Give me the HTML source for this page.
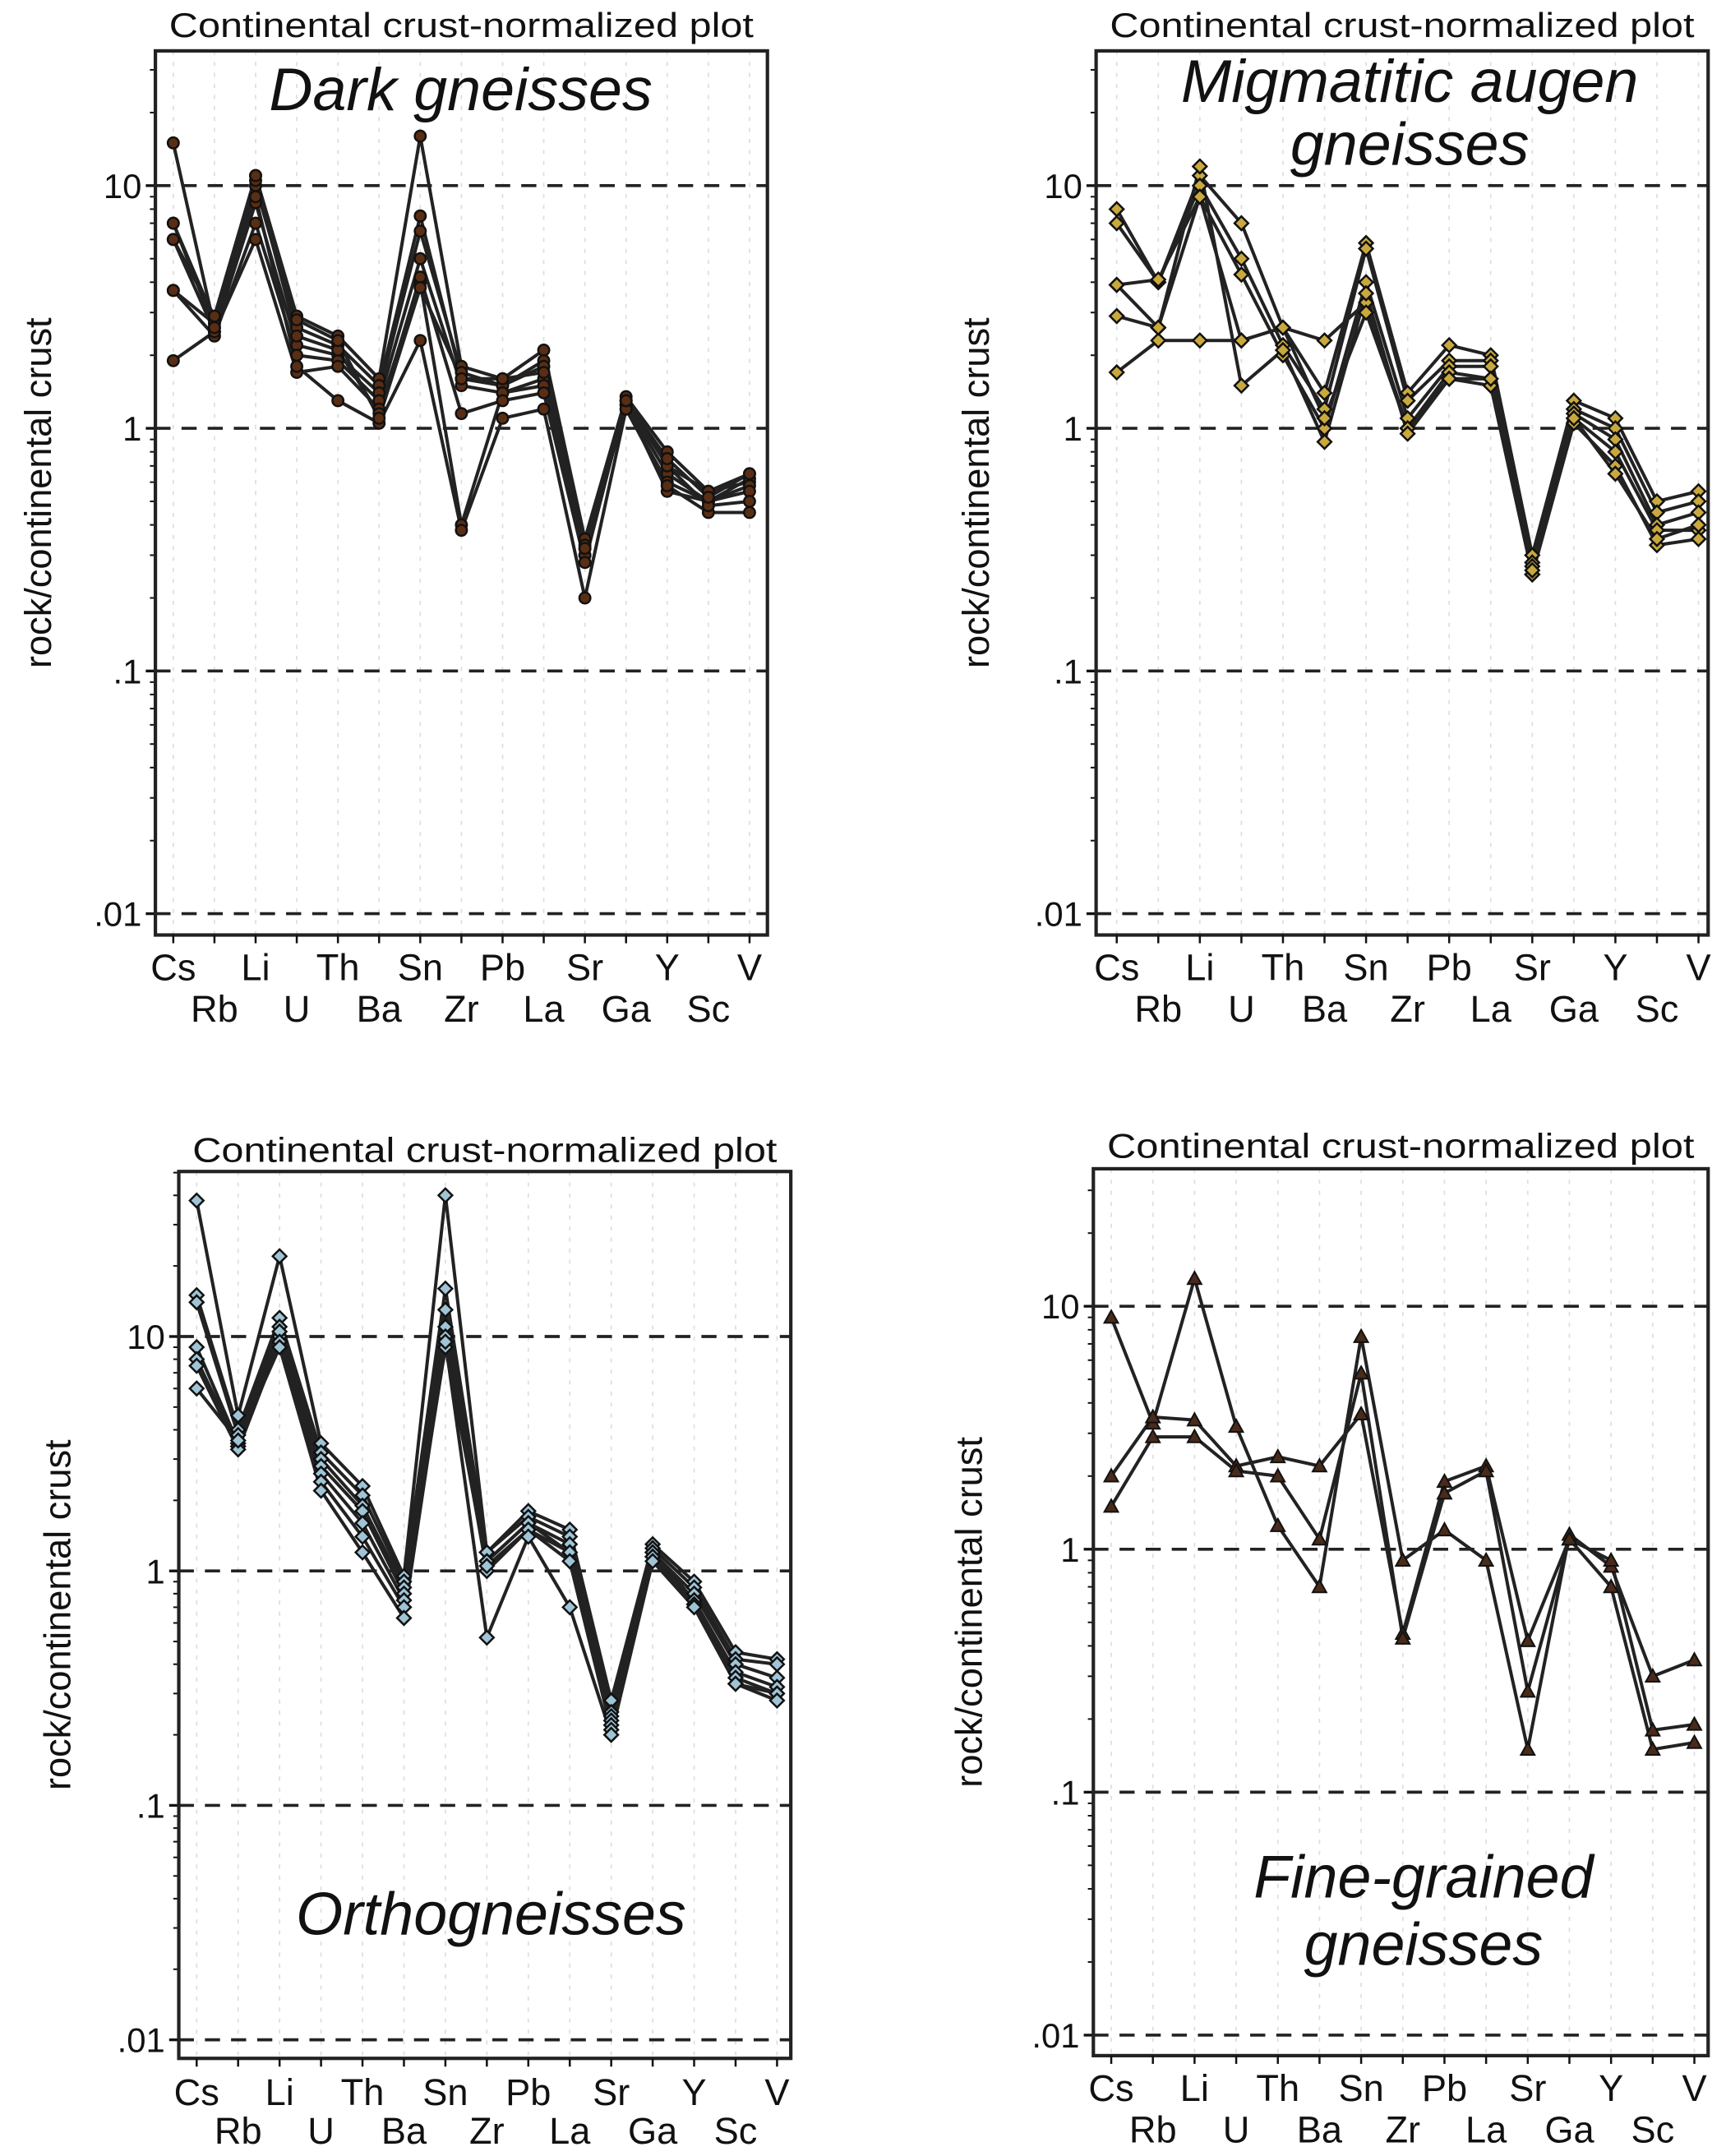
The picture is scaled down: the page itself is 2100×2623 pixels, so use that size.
<!DOCTYPE html>
<html><head><meta charset="utf-8"><style>
html,body{margin:0;padding:0;background:#fff;}
svg{display:block;}
text{font-family:"Liberation Sans",sans-serif;fill:#111;}
</style></head><body>
<svg id="s" width="2100" height="2623" viewBox="0 0 1255 1568" preserveAspectRatio="none" xmlns="http://www.w3.org/2000/svg"></svg>
<script>
const els=["Cs","Rb","Li","U","Th","Ba","Sn","Zr","Pb","La","Sr","Ga","Y","Sc","V"];
const panels=[
{fx:113,fw:445,fy:37,fh:643,y10:135,dec:176.5,x0:126,x1:545,ty:18,l1:703,l2:733,ylx:28,
 title:["Dark gneisses"],tty:[66],ttx:335,fill:"#5a2e14",mk:"c",
 d:[[15,2.6,11,2.9,2.4,1.6,16,1.8,1.6,2.1,0.35,1.35,0.8,0.55,0.65],
 [7,2.8,10,2.6,2.2,1.5,7.5,1.6,1.5,1.9,0.3,1.3,0.7,0.55,0.6],
 [6,2.5,8.5,2.2,2.0,1.4,6.5,1.7,1.5,1.8,0.32,1.25,0.65,0.5,0.62],
 [3.7,2.4,7,2.0,1.9,1.3,5,1.5,1.4,1.6,0.33,1.2,0.6,0.5,0.58],
 [1.9,2.5,6,1.7,1.8,1.2,4,0.4,1.4,1.5,0.3,1.25,0.55,0.5,0.55],
 [3.7,2.7,9,1.8,1.3,1.05,2.3,0.38,1.1,1.2,0.2,1.2,0.58,0.45,0.45],
 [7,2.6,10.5,2.4,2.1,1.15,4.2,1.15,1.3,1.4,0.28,1.3,0.7,0.48,0.5],
 [6,2.9,11,2.8,2.3,1.1,3.8,1.6,1.6,1.7,0.32,1.3,0.75,0.52,0.65]]},
{fx:797,fw:445,fy:37,fh:643,y10:135,dec:176.5,x0:812,x1:1235,ty:18,l1:703,l2:733,ylx:710,
 title:["Migmatitic augen","gneisses"],tty:[60,106],ttx:1025,fill:"#c9a93e",mk:"d",
 d:[[8,4,11,7,2.6,1.4,5.8,1.4,2.2,2.0,0.3,1.3,1.1,0.5,0.55],
 [7,4,10,5,2.2,1.2,5.5,1.3,1.9,1.9,0.28,1.2,1.0,0.45,0.5],
 [3.9,4.1,9,4.3,2.0,1.0,4,1.1,1.8,1.8,0.25,1.15,0.9,0.4,0.45],
 [2.9,2.6,9,2.3,2.6,2.3,3.3,1.0,1.7,1.6,0.27,1.1,0.8,0.38,0.38],
 [1.7,2.3,2.3,2.3,2.6,1.1,3,1.0,1.6,1.5,0.25,1.05,0.7,0.33,0.35],
 [3.9,2.6,12,1.5,2.1,0.88,3.6,0.95,1.6,1.6,0.26,1.1,0.65,0.35,0.4]]},
{fx:130,fw:445,fy:852,fh:645,y10:972,dec:170.5,x0:143,x1:565,ty:836,l1:1521,l2:1549,ylx:42,
 title:["Orthogneisses"],tty:[1393],ttx:357,fill:"#9fc4d6",mk:"d",
 d:[[38,4.6,22,3.5,2.3,0.95,40,1.2,1.8,1.5,0.28,1.3,0.9,0.45,0.42],
 [15,4,12,3.2,2.1,0.9,16,1.2,1.7,1.4,0.25,1.25,0.85,0.42,0.4],
 [14,3.8,11,3,1.9,0.85,13,1.1,1.6,1.3,0.24,1.2,0.8,0.4,0.35],
 [9,3.5,10,2.8,1.8,0.8,11,1.1,1.6,1.2,0.23,1.2,0.75,0.37,0.32],
 [8,3.4,10.5,2.6,1.6,0.75,10,1.0,1.5,1.2,0.22,1.15,0.75,0.35,0.3],
 [7.5,3.3,9.5,2.4,1.4,0.7,9,1.05,1.5,1.1,0.21,1.15,0.72,0.33,0.3],
 [6,3.6,9,2.2,1.2,0.63,9.5,0.52,1.4,0.7,0.2,1.1,0.7,0.33,0.28]]},
{fx:795,fw:447,fy:850,fh:645,y10:950,dec:176.7,x0:808,x1:1232,ty:833,l1:1518,l2:1548,ylx:705,
 title:["Fine-grained","gneisses"],tty:[1366,1415],ttx:1035,fill:"#4a2a1a",mk:"t",
 d:[[9,3.3,13,3.2,1.25,0.7,7.5,0.9,1.2,0.9,0.15,1.15,0.85,0.3,0.35],
 [2,3.5,3.4,2.2,2.4,2.2,3.6,0.45,1.9,2.2,0.42,1.1,0.9,0.18,0.19],
 [1.5,2.9,2.9,2.1,2.0,1.1,5.3,0.43,1.7,2.1,0.26,1.1,0.7,0.15,0.16]]}
];
let h="";
for(const p of panels){
 const Y=v=>p.y10-(Math.log10(v)-1)*p.dec;
 const X=i=>p.x0+(p.x1-p.x0)*i/14;
 const bot=p.fy+p.fh;
 h+=`<text x="${p.fx+p.fw/2}" y="${p.ty+9}" font-size="25" text-anchor="middle" textLength="${p.fw-20}" lengthAdjust="spacingAndGlyphs">Continental crust-normalized plot</text>`;
 for(let i=0;i<15;i++)h+=`<line x1="${X(i)}" y1="${p.fy}" x2="${X(i)}" y2="${bot}" stroke="#ddd" stroke-width="1" stroke-dasharray="3,5"/>`;
 [10,1,0.1,0.01].forEach((v,k)=>{const y=Y(v);
  h+=`<line x1="${p.fx}" y1="${y}" x2="${p.fx+p.fw}" y2="${y}" stroke="#222" stroke-width="2.2" stroke-dasharray="11,8"/>`;
  h+=`<line x1="${p.fx-7}" y1="${y}" x2="${p.fx}" y2="${y}" stroke="#111" stroke-width="2"/>`;
  h+=`<text x="${p.fx-10}" y="${y+9}" font-size="25" text-anchor="end">${["10","1",".1",".01"][k]}</text>`;});
 for(let d=-2;d<=1;d++)for(let m=2;m<=9;m++){const v=m*Math.pow(10,d);const y=Y(v);if(y<p.fy)continue;
  h+=`<line x1="${p.fx-4}" y1="${y}" x2="${p.fx}" y2="${y}" stroke="#111" stroke-width="1.2"/>`;}
 h+=`<rect x="${p.fx}" y="${p.fy}" width="${p.fw}" height="${p.fh}" fill="none" stroke="#222" stroke-width="2.5"/>`;
 for(let i=0;i<15;i++){h+=`<line x1="${X(i)}" y1="${bot}" x2="${X(i)}" y2="${bot+6}" stroke="#111" stroke-width="1.5"/>`;
  h+=`<text x="${X(i)}" y="${(i%2?p.l2:p.l1)+10}" font-size="27" text-anchor="middle">${els[i]}</text>`;}
 const cy=(p.fy+bot)/2;
 h+=`<text transform="translate(${p.ylx+9},${cy}) rotate(-90)" font-size="27" text-anchor="middle">rock/continental crust</text>`;
 p.title.forEach((t,k)=>h+=`<text x="${p.ttx}" y="${p.tty[k]+14}" font-size="44" font-style="italic" text-anchor="middle">${t}</text>`);
 p.d.forEach(s=>{h+=`<polyline fill="none" stroke="#222" stroke-width="2.4" stroke-linejoin="round" points="${s.map((v,i)=>X(i)+","+Y(v)).join(" ")}"/>`;});
 p.d.forEach(s=>s.forEach((v,i)=>{const x=X(i),y=Y(v);
  if(p.mk=="c")h+=`<circle cx="${x}" cy="${y}" r="4" fill="${p.fill}" stroke="#111" stroke-width="1.5"/>`;
  else if(p.mk=="d")h+=`<polygon points="${x},${y-5} ${x+5},${y} ${x},${y+5} ${x-5},${y}" fill="${p.fill}" stroke="#111" stroke-width="1.5"/>`;
  else h+=`<polygon points="${x},${y-5} ${x+5},${y+4} ${x-5},${y+4}" fill="${p.fill}" stroke="#111" stroke-width="1.2"/>`;}));
}
document.getElementById("s").innerHTML=h;
</script>
</body></html>
